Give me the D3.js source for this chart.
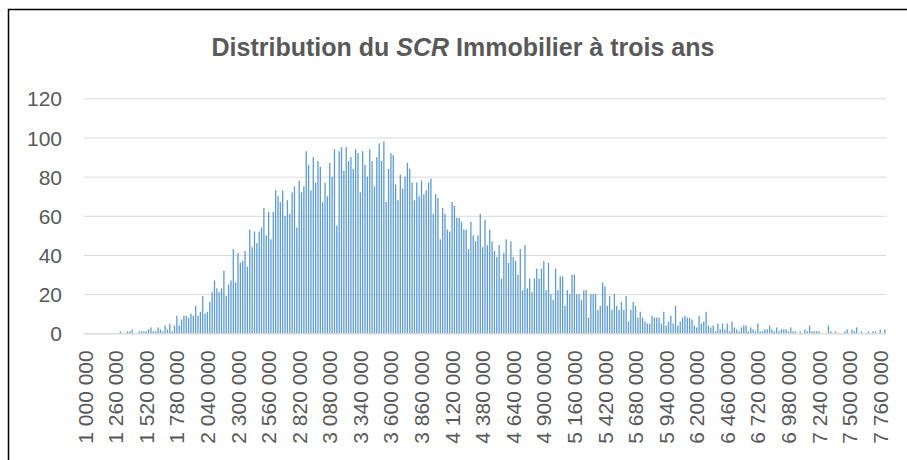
<!DOCTYPE html>
<html>
<head>
<meta charset="utf-8">
<script src="https://cdn.jsdelivr.net/npm/d3@7"></script>
<style>
  body { margin: 0; background: #fff; }
  .axis text { font-family: "Liberation Sans", Arial, sans-serif; font-size: 21px; fill: #595959; }
  .title { font-family: "Liberation Sans", Arial, sans-serif; font-size: 25px; font-weight: bold; fill: #595959; }
</style>
</head>
<body>
<div class="chart"></div>
<script>
// histogram counts, one per 20 000 bin starting at 1 000 000
const counts = [
  0,0,0,0,0,0,0,0,0,0, 0,0,0,0,0,1,0,0,1,1,
  2,0,0,1,1,1,1,2,3,1, 1,3,2,1,4,2,5,1,4,9,
  4,7,9,9,8,10,9,14,9,11, 19,10,11,16,21,27,23,21,23,32,
  19,25,27,43,26,41,36,37,42,34, 53,44,52,46,52,54,64,50,62,48,
  62,73,70,67,73,60,68,61,72,75, 54,78,72,75,93,86,73,90,77,88,
  85,67,77,70,87,80,94,55,93,95, 83,95,88,90,84,94,92,72,93,86,
  80,94,88,75,90,97,88,98,67,84, 92,91,76,68,81,74,80,87,84,77,
  68,77,70,78,71,73,77,79,61,71, 69,48,64,61,53,52,67,65,59,59,
  57,53,53,43,57,50,47,50,61,44, 58,45,53,47,42,39,45,28,41,48,
  36,47,39,37,30,43,22,45,23,28, 21,28,33,28,33,37,22,36,20,17,
  33,22,29,29,14,22,20,30,30,20, 20,17,22,22,8,20,20,20,12,14,
  26,24,14,19,12,20,14,12,16,12, 19,6,12,16,14,8,11,8,6,5,
  5,9,8,8,8,5,11,4,6,9, 5,14,4,6,8,9,8,8,7,4,
  3,9,5,6,11,4,3,4,1,5, 2,5,2,5,1,6,3,2,1,3,
  4,4,1,3,2,1,5,1,1,2, 2,4,2,1,3,1,2,2,2,1,
  3,1,1,0,1,0,2,1,4,1, 1,1,1,0,0,0,4,1,0,1,
  0,0,0,1,2,0,2,1,3,0, 1,0,0,1,0,1,1,0,2,0,
  2
];
const bins = counts.map((c, i) => 1000000 + i * 20000);
const xTicks = [1000000, 1260000, 1520000, 1780000, 2040000, 2300000, 2560000, 2820000, 3080000,
  3340000, 3600000, 3860000, 4120000, 4380000, 4640000, 4900000, 5160000, 5420000, 5680000,
  5940000, 6200000, 6460000, 6720000, 6980000, 7240000, 7500000, 7760000];
const yTicks = [0, 20, 40, 60, 80, 100, 120];

const width = 907, height = 460;
const plot = {left: 84, right: 886, top: 98.3, bottom: 333.3};

const svg = d3.select(".chart").append("svg")
  .attr("width", width)
  .attr("height", height);

// chart frame
svg.append("rect")
  .attr("x", 8.5).attr("y", 9.5)
  .attr("width", 910).attr("height", 470)
  .attr("fill", "none")
  .attr("stroke", "#000")
  .attr("stroke-width", 1.5);

let xScale = d3.scaleBand()
  .domain(bins)
  .range([plot.left, plot.right])
  .paddingInner(0.45)
  .paddingOuter(0.2);

let yScale = d3.scaleLinear()
  .domain([0, 120])
  .range([plot.bottom, plot.top]);

let yAxis = d3.axisLeft(yScale)
  .tickValues(yTicks)
  .tickSize(-(plot.right - plot.left))
  .tickPadding(22);

svg.append("g")
  .attr("class", "axis y-axis")
  .attr("transform", `translate(${plot.left},0)`)
  .call(yAxis)
  .call(g => g.select(".domain").remove())
  .call(g => g.selectAll(".tick line").attr("stroke", "#d9d9d9").attr("stroke-width", 1))
  .call(g => g.selectAll(".tick text").attr("dy", "0.36em"));

svg.append("g")
  .selectAll("rect")
  .data(counts)
  .enter()
  .append("rect")
  .attr("x", (d, i) => xScale(bins[i]))
  .attr("y", d => yScale(d))
  .attr("width", xScale.bandwidth())
  .attr("height", d => yScale(0) - yScale(d))
  .attr("fill", "#5b9bd5");

let fmt = v => d3.format(",")(v).replace(/,/g, " ");

let xAxis = d3.axisBottom(xScale)
  .tickValues(xTicks)
  .tickSize(0)
  .tickFormat(fmt);

svg.append("g")
  .attr("class", "axis x-axis")
  .attr("transform", `translate(0,${plot.bottom})`)
  .call(xAxis)
  .call(g => g.select(".domain").attr("stroke", "#d9d9d9"))
  .call(g => g.selectAll(".tick text")
    .attr("y", 0)
    .attr("x", -17)
    .attr("dy", "0.36em")
    .attr("transform", "rotate(-90)")
    .style("text-anchor", "end"));

let title = svg.append("text")
  .attr("class", "title")
  .attr("x", 463)
  .attr("y", 56)
  .attr("text-anchor", "middle");
title.append("tspan").text("Distribution du ");
title.append("tspan").style("font-style", "italic").text("SCR");
title.append("tspan").text(" Immobilier à trois ans");
</script>
</body>
</html>
